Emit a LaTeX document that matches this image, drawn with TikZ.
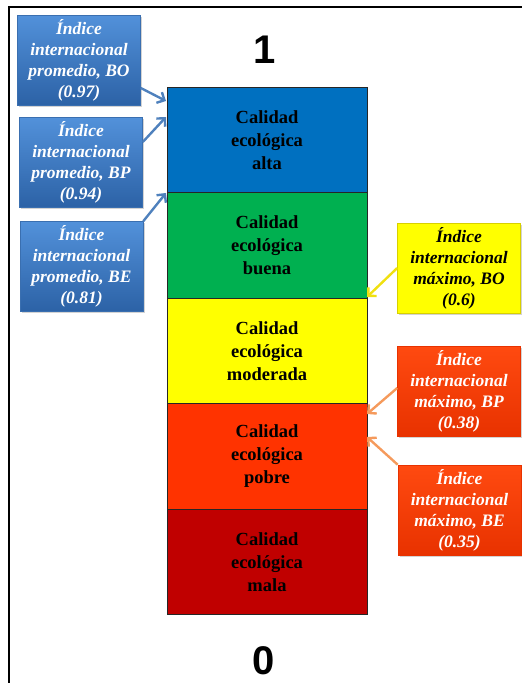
\documentclass[tikz,border=0pt]{standalone}
\usepackage{fontspec}
\setmainfont{Liberation Serif}
\newfontfamily\digitfont{Liberation Sans}
\usetikzlibrary{arrows.meta,shadows}
\definecolor{bandblue}{HTML}{0070C0}
\definecolor{bandgreen}{HTML}{00B050}
\definecolor{bandyellow}{HTML}{FFFF00}
\definecolor{bandorange}{HTML}{FF3300}
\definecolor{bandred}{HTML}{C00000}
\definecolor{tagbluetop}{HTML}{5291DA}
\definecolor{tagbluebot}{HTML}{2C62A6}
\definecolor{tagblueline}{HTML}{3A6FB0}
\definecolor{tagorangetop}{HTML}{FF4A10}
\definecolor{tagorangebot}{HTML}{E83200}
\definecolor{tagyellowline}{HTML}{D8D000}
\definecolor{arrowblue}{HTML}{4F81BD}
\definecolor{arrowyellow}{HTML}{F0E010}
\definecolor{arroworange}{HTML}{F59A5C}
\tikzset{
  band/.style={draw=black!85, line width=0.9pt, minimum width=200pt, minimum height=105.4pt,
    inner sep=0pt, align=center, font=\fontsize{18.5}{23}\selectfont\bfseries, text=black},
  tag/.style={minimum width=123pt, minimum height=90pt, inner sep=0pt, align=center,
    font=\fontsize{17.5}{21}\selectfont\bfseries\itshape,
    drop shadow={opacity=0.35, shadow xshift=1.5pt, shadow yshift=-1.5pt}},
  bluetag/.style={tag, draw=tagblueline, line width=0.6pt, top color=tagbluetop,
    bottom color=tagbluebot, text=white},
  yellowtag/.style={tag, draw=tagyellowline, line width=0.6pt, fill=bandyellow, text=black},
  orangetag/.style={tag, draw=tagorangebot, line width=0.6pt, top color=tagorangetop,
    bottom color=tagorangebot, text=white},
  pointer/.style={line width=2.4pt, -{Straight Barb[length=6pt,width=12pt]}},
  endlabel/.style={font=\digitfont\fontsize{40}{40}\selectfont\bfseries, inner sep=0pt}
}
\begin{document}
\begin{tikzpicture}[x=1pt, y=-1pt]
  \useasboundingbox (0,0) rectangle (522,683);
  % frame
  \draw[line width=2pt] (9,683) -- (9,6.7) -- (522,6.7);

  % quality scale
  \node[band, fill=bandblue]   (alta)  at (267,140.2) {Calidad\\ecológica\\alta};
  \node[band, fill=bandgreen]  (buena) at (267,245.6) {Calidad\\ecológica\\buena};
  \node[band, fill=bandyellow] (mod)   at (267,351.0) {Calidad\\ecológica\\moderada};
  \node[band, fill=bandorange] (pobre) at (267,456.4) {Calidad\\ecológica\\pobre};
  \node[band, fill=bandred]    (mala)  at (267,561.8) {Calidad\\ecológica\\mala};

  \node[endlabel] (uno)  at (265,50)  {1};
  \node[endlabel] (cero) at (264,661) {0};

  % reference points on the scale
  \coordinate (pBO) at (166,101);
  \coordinate (pBP) at (166,117);
  \coordinate (pBE) at (166,193);
  \coordinate (mBO) at (367,297);
  \coordinate (mBP) at (367,414);
  \coordinate (mBE) at (367,437);

  % international averages
  \node[bluetag] (avgBO) at (79,60)    {Índice\\internacional\\promedio, BO\\(0.97)};
  \node[bluetag] (avgBP) at (81,162.5) {Índice\\internacional\\promedio, BP\\(0.94)};
  \node[bluetag] (avgBE) at (81.5,266.5) {Índice\\internacional\\promedio, BE\\(0.81)};

  % international maxima
  \node[yellowtag] (maxBO) at (459,268) {Índice\\internacional\\máximo, BO\\(0.6)};
  \node[orangetag] (maxBP) at (459,391) {Índice\\internacional\\máximo, BP\\(0.38)};
  \node[orangetag] (maxBE) at (459.5,510) {Índice\\internacional\\máximo, BE\\(0.35)};

  % pointers
  \draw[pointer, arrowblue] (avgBO.east |- 0,88) -- (pBO);
  \draw[pointer, arrowblue] (avgBP.east |- 0,142) -- (pBP);
  \draw[pointer, arrowblue] (avgBE.north east) -- (pBE);
  \draw[pointer, arrowyellow] (maxBO.west) -- (mBO);
  \draw[pointer, arroworange] (maxBP.west |- 0,388) -- (mBP);
  \draw[pointer, arroworange] (maxBE.north west) -- (mBE);
\end{tikzpicture}
\end{document}
